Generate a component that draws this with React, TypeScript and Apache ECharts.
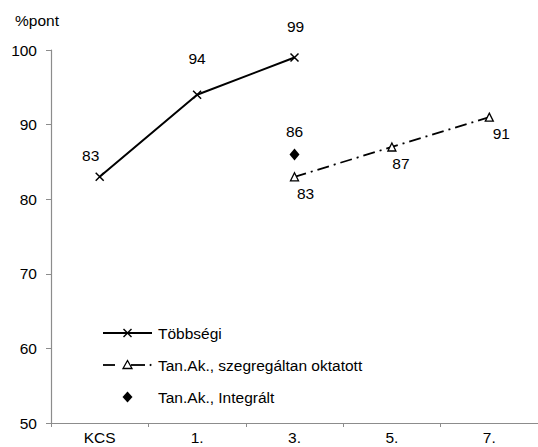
import React, { useEffect, useRef } from "react";
import * as echarts from "echarts";

const categories = ["KCS", "1.", "3.", "5.", "7."];
const tobbsegi: (number | null)[] = [83, 94, 99, null, null];
const szegregalt: (number | null)[] = [null, null, 83, 87, 91];
const integralt: (number | null)[] = [null, null, 86, null, null];
const seriesNames = ["Többségi", "Tan.Ak., szegregáltan oktatott", "Tan.Ak., Integrált"];
const yTicks = { min: 50, max: 100, interval: 10 };
const unitLabel = "%pont";

// label placement tweaks (layout, not data)
const tobbOffsets: [number, number][] = [[-9, -4], [0, -19], [1, -13]];
const szegOffsets: [number, number][] = [[0, 0], [0, 0], [11, -1], [9, -1], [12, -1]];

const FONT = "'Liberation Sans', Arial, sans-serif";
const FS = 15.5;
const CROSS = "path://M0,0L10,10M10,0L0,10";

function legendGraphic() {
  const x0 = 103;
  const x1 = 152;
  const xm = 127.5;
  const tx = 158;
  const rows = [333, 365, 397];
  const txt = (y: number, t: string) => ({
    type: "text",
    x: tx,
    y,
    style: {
      text: t,
      fill: "#000",
      fontSize: FS,
      fontFamily: FONT,
      verticalAlign: "middle",
      textAlign: "left",
    },
  });
  const blk = { stroke: "#000", lineWidth: 2 };
  const y1 = rows[0];
  const y2 = rows[1];
  const y3 = rows[2];
  return [
    { type: "line", shape: { x1: x0, y1, x2: x1, y2: y1 }, style: blk },
    { type: "line", shape: { x1: xm - 4, y1: y1 - 4, x2: xm + 4, y2: y1 + 4 }, style: { stroke: "#000", lineWidth: 1.5 } },
    { type: "line", shape: { x1: xm - 4, y1: y1 + 4, x2: xm + 4, y2: y1 - 4 }, style: { stroke: "#000", lineWidth: 1.5 } },
    txt(y1, seriesNames[0]),
    { type: "line", shape: { x1: x0, y1: y2, x2: 115, y2 }, style: { stroke: "#000", lineWidth: 1.8 } },
    { type: "line", shape: { x1: 131, y1: y2, x2: 145, y2 }, style: { stroke: "#000", lineWidth: 1.8 } },
    { type: "circle", shape: { cx: 150.5, cy: y2, r: 1 }, style: { fill: "#000" } },
    {
      type: "polygon",
      shape: { points: [[xm, y2 - 4.5], [xm + 4.5, y2 + 3.5], [xm - 4.5, y2 + 3.5]] },
      style: { fill: "#fff", stroke: "#000", lineWidth: 1.3 },
    },
    txt(y2, seriesNames[1]),
    {
      type: "polygon",
      shape: { points: [[xm, y3 - 5.5], [xm + 5, y3], [xm, y3 + 5.5], [xm - 5, y3]] },
      style: { fill: "#000" },
    },
    txt(y3, seriesNames[2]),
  ];
}

export default function App() {
  const ref = useRef<HTMLDivElement>(null);
  useEffect(() => {
    if (!ref.current) return;
    const chart = echarts.init(ref.current, undefined, { renderer: "svg" });
    const lbl = { color: "#000", fontSize: FS, fontFamily: FONT };
    chart.setOption({
      animation: false,
      backgroundColor: "#fff",
      textStyle: { fontFamily: FONT },
      grid: { left: 51, top: 50, bottom: 24, right: -6, containLabel: false },
      graphic: [
        {
          type: "text",
          left: 15,
          top: 12,
          style: { text: unitLabel, fill: "#000", fontSize: FS, fontFamily: FONT },
        },
        ...legendGraphic(),
      ],
      legend: { show: false },
      xAxis: {
        type: "category",
        data: categories,
        boundaryGap: true,
        axisLine: { lineStyle: { color: "#8c8c8c", width: 1.2 } },
        axisTick: { show: true, length: 4, lineStyle: { color: "#8c8c8c" } },
        axisLabel: { ...lbl, margin: 6 },
        splitLine: { show: false },
      },
      yAxis: {
        type: "value",
        min: yTicks.min,
        max: yTicks.max,
        interval: yTicks.interval,
        axisLine: { show: true, lineStyle: { color: "#8c8c8c", width: 1.2 } },
        axisTick: { show: true, length: 5, lineStyle: { color: "#8c8c8c" } },
        axisLabel: { ...lbl, margin: 14 },
        splitLine: { show: false },
      },
      series: [
        {
          name: seriesNames[0],
          type: "line",
          data: tobbsegi.map((v, i) =>
            v == null ? "-" : { value: v, label: { offset: tobbOffsets[i] } }
          ),
          symbol: CROSS,
          symbolSize: 8,
          itemStyle: { color: "#000", borderColor: "#000", borderWidth: 1.5 },
          lineStyle: { color: "#000", width: 2 },
          label: { show: true, position: "top", ...lbl },
        },
        {
          name: seriesNames[1],
          type: "line",
          data: szegregalt.map((v, i) =>
            v == null ? "-" : { value: v, label: { offset: szegOffsets[i] } }
          ),
          symbol: "triangle",
          symbolSize: 8,
          itemStyle: { color: "#fff", borderColor: "#000", borderWidth: 1.3 },
          lineStyle: { color: "#000", width: 1.8, type: [12, 5, 2, 5] },
          label: { show: true, position: "bottom", ...lbl },
        },
        {
          name: seriesNames[2],
          type: "scatter",
          data: integralt.map((v) => (v == null ? "-" : v)),
          symbol: "diamond",
          symbolSize: [10, 12],
          itemStyle: { color: "#000", opacity: 1 },
          label: { show: true, position: "top", offset: [0, -4], ...lbl },
        },
      ],
    });
    return () => chart.dispose();
  }, []);
  return (
    <div
      ref={ref}
      style={{ position: "absolute", left: 0, top: 0, width: 538, height: 447 }}
    />
  );
}
